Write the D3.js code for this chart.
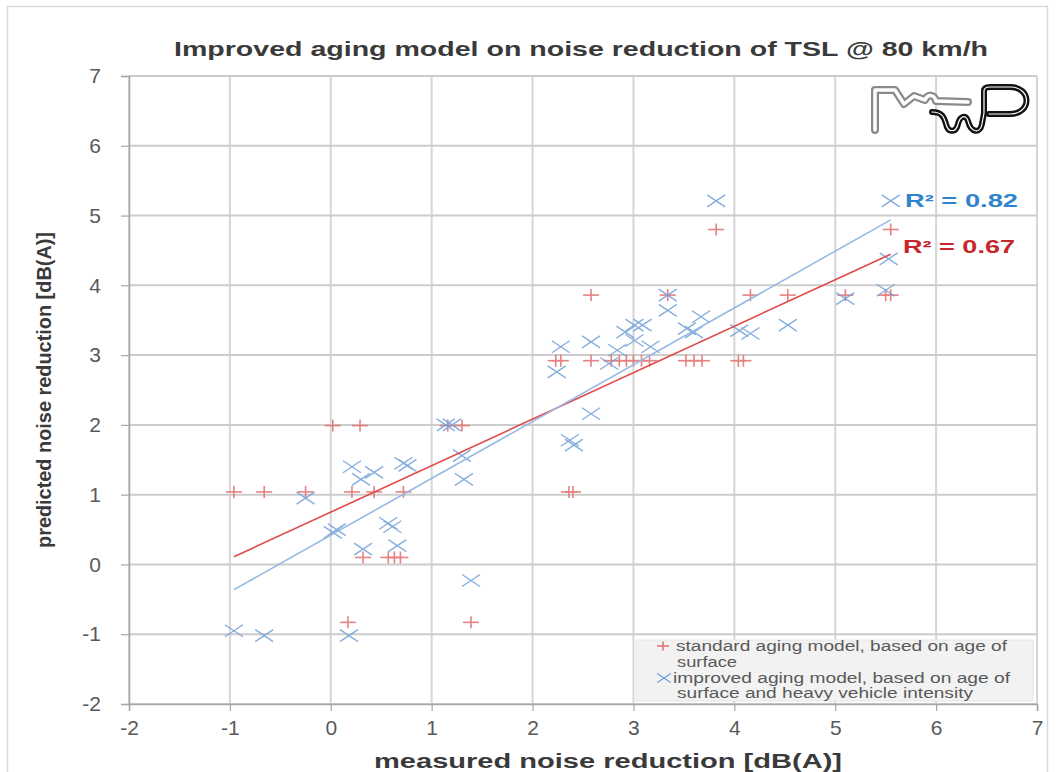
<!DOCTYPE html>
<html>
<head>
<meta charset="utf-8">
<script src="https://cdn.jsdelivr.net/npm/d3@7"></script>
<style>
  html, body { margin: 0; padding: 0; background: #fff; }
  svg { display: block; }
  text { font-family: "Liberation Sans Narrow", "Liberation Sans", "DejaVu Sans", sans-serif; }
</style>
</head>
<body>
<svg id="chart" width="1056" height="772"></svg>
<script>
// ---------------- DATA ----------------
const chartTitle = "Improved aging model on noise reduction of TSL @ 80 km/h";
const xAxisTitle = "measured noise reduction [dB(A)]";
const yAxisTitle = "predicted noise reduction [dB(A)]";
const xTicks = [-2, -1, 0, 1, 2, 3, 4, 5, 6, 7];
const yTicks = [-2, -1, 0, 1, 2, 3, 4, 5, 6, 7];
const seriesNames = ["standard aging model, based on age of surface",
                     "improved aging model, based on age of surface and heavy vehicle intensity"];

// standard aging model (red +)
const standardX = [-0.96, -0.66, -0.25, 0.02, 0.29, 0.17, 0.21, 0.43, 0.72, 0.32, 0.57, 0.63, 0.69,
  1.16, 1.30, 1.39, 2.36, 2.40, 2.23, 2.28, 2.58, 2.78, 2.86, 2.93, 3.00, 3.08, 3.16, 3.52, 3.60, 3.68,
  4.04, 4.09, 2.58, 3.34, 4.16, 4.53, 5.10, 5.50, 5.55, 3.82, 5.55];
const standardY = [1.04, 1.04, 1.04, 1.99, 1.99, -0.83, 1.04, 1.04, 1.04, 0.10, 0.10, 0.10, 0.10,
  1.99, 1.99, -0.83, 1.04, 1.04, 2.92, 2.92, 2.92, 2.92, 2.92, 2.92, 2.92, 2.92, 2.92, 2.92, 2.92, 2.92,
  2.92, 2.92, 3.86, 3.86, 3.86, 3.86, 3.86, 3.86, 3.86, 4.80, 4.80];

// improved aging model (blue x)
const improvedX = [-0.96, -0.66, 0.18, -0.25, 0.02, 0.06, 0.21, 0.30, 0.43, 0.72, 0.76, 0.57, 0.61, 0.32, 0.66,
  1.14, 1.20, 1.30, 1.32, 1.39, 2.28, 2.24, 2.58, 2.76, 2.84, 2.92, 3.01, 3.09, 3.01, 3.17,
  3.34, 3.34, 3.67, 3.53, 3.60, 4.05, 4.16, 4.53, 2.58, 2.37, 2.41, 3.82, 5.55, 5.53, 5.10, 5.50];
const improvedY = [-0.95, -1.02, -1.02, 0.95, 0.46, 0.50, 1.40, 1.22, 1.32, 1.45, 1.42, 0.59, 0.54, 0.22, 0.27,
  2.00, 2.00, 1.56, 1.22, -0.23, 3.12, 2.76, 3.19, 2.88, 3.07, 3.33, 3.43, 3.43, 3.21, 3.12,
  3.64, 3.86, 3.55, 3.38, 3.33, 3.35, 3.31, 3.43, 2.16, 1.78, 1.71, 5.21, 5.21, 4.38, 3.81, 3.93];

// linear trend lines and R² labels
const trendSlopes = [0.666, 0.814];
const trendIntercepts = [0.75, 0.42];
const rSquaredLabels = ["R² = 0.67", "R² = 0.82"];

// ---------------- DRAWING ----------------
const svg = d3.select("#chart");
const x = d3.scaleLinear().domain([-2, 7]).range([129, 1037]);
const y = d3.scaleLinear().domain([-2, 7]).range([704, 76]);

const red = "#e37575", blue = "#72a0d8";
const redLine = "#e04a4a", blueLine = "#97b9e4";

// outer frame
svg.append("rect").attr("x", 7.5).attr("y", 6.5).attr("width", 1040).attr("height", 780)
  .attr("fill", "none").attr("stroke", "#d9d9d9").attr("stroke-width", 1.5);

// grid
const grid = svg.append("g");
grid.selectAll(".vg").data(xTicks).enter().append("line")
  .attr("x1", d => x(d)).attr("x2", d => x(d)).attr("y1", y(7)).attr("y2", y(-2))
  .attr("stroke", "#d6d6d6").attr("stroke-width", 2);
grid.selectAll(".hg").data(yTicks).enter().append("line")
  .attr("y1", d => y(d)).attr("y2", d => y(d)).attr("x1", x(-2)).attr("x2", x(7))
  .attr("stroke", "#cccccc").attr("stroke-width", 2);

// axes
const fmt = d => String(d);
const xAxis = d3.axisBottom(x).tickValues(xTicks).tickSize(7).tickPadding(9).tickFormat(fmt);
const yAxis = d3.axisLeft(y).tickValues(yTicks).tickSize(8).tickPadding(20).tickFormat(fmt);
const gx = svg.append("g").attr("transform", `translate(0,${y(-2)})`).call(xAxis);
const gy = svg.append("g").attr("transform", `translate(${x(-2)},0)`).call(yAxis);
[gx, gy].forEach(g => {
  g.select(".domain").attr("stroke", "#a6a6a6").attr("stroke-width", 1.5);
  g.selectAll(".tick line").attr("stroke", "#a6a6a6").attr("stroke-width", 1.2);
  g.selectAll(".tick text").attr("fill", "#595959").attr("font-size", 21)
    .attr("font-family", "'Liberation Sans Narrow','Liberation Sans',sans-serif");
});

// legend box (drawn before points)
const leg = svg.append("g");
leg.append("rect").attr("x", 636).attr("y", 640).attr("width", 397).attr("height", 61)
  .attr("fill", "#f2f2f2").attr("stroke", "#e6e6e6");

// markers
function plus(g, cx, cy, color, s) {
  s = s || 1;
  g.append("line").attr("x1", cx - 8 * s).attr("x2", cx + 8 * s).attr("y1", cy).attr("y2", cy)
    .attr("stroke", color).attr("stroke-width", 1.6);
  g.append("line").attr("x1", cx).attr("x2", cx).attr("y1", cy - 6 * s).attr("y2", cy + 6 * s)
    .attr("stroke", color).attr("stroke-width", 1.6);
}
function cross(g, cx, cy, color, s) {
  s = s || 1;
  g.append("line").attr("x1", cx - 9 * s).attr("x2", cx + 9 * s).attr("y1", cy - 6 * s).attr("y2", cy + 6 * s)
    .attr("stroke", color).attr("stroke-width", 1.4);
  g.append("line").attr("x1", cx - 9 * s).attr("x2", cx + 9 * s).attr("y1", cy + 6 * s).attr("y2", cy - 6 * s)
    .attr("stroke", color).attr("stroke-width", 1.4);
}

const gStd = svg.append("g").attr("opacity", 0.9);
standardX.forEach((v, i) => plus(gStd, x(v), y(standardY[i]), red));
const gImp = svg.append("g").attr("opacity", 0.85);
improvedX.forEach((v, i) => cross(gImp, x(v), y(improvedY[i]), blue));

// trend lines
const seriesXs = [standardX, improvedX];
const lineColors = [redLine, blueLine];
seriesXs.forEach((xs, k) => {
  const [x0, x1] = d3.extent(xs);
  const pts = [x0, x1].map(v => [v, trendSlopes[k] * v + trendIntercepts[k]]);
  svg.append("path").datum(pts)
    .attr("d", d3.line().x(d => x(d[0])).y(d => y(d[1])))
    .attr("fill", "none").attr("stroke", lineColors[k]).attr("stroke-width", 1.6);
});

// R² labels
svg.append("text").attr("x", 905).attr("y", 207).text(rSquaredLabels[1])
  .attr("font-size", 18).attr("font-weight", "bold").attr("fill", "#2f84cc")
  .attr("font-family", "'Open Sans','DejaVu Sans',sans-serif")
  .attr("textLength", 113).attr("lengthAdjust", "spacingAndGlyphs");
svg.append("text").attr("x", 903).attr("y", 253).text(rSquaredLabels[0])
  .attr("font-size", 18).attr("font-weight", "bold").attr("fill", "#c8262a")
  .attr("font-family", "'Open Sans','DejaVu Sans',sans-serif")
  .attr("textLength", 112).attr("lengthAdjust", "spacingAndGlyphs");

// legend content
plus(leg, 663, 646, red, 0.75);
cross(leg, 664, 678, blue, 0.75);
const legLines = [
  ["standard aging model, based on age of", 676, 651, 331],
  ["surface", 677, 667, 60],
  ["improved aging model, based on age of", 673, 683, 337],
  ["surface and heavy vehicle intensity", 677, 698, 296]
];
legLines.forEach(l => {
  leg.append("text").attr("x", l[1]).attr("y", l[2]).text(l[0])
    .attr("font-size", 14).attr("fill", "#595959")
    .attr("textLength", l[3]).attr("lengthAdjust", "spacingAndGlyphs");
});

// titles
svg.append("text").attr("x", 174).attr("y", 56).text(chartTitle)
  .attr("font-size", 21).attr("font-weight", "bold").attr("fill", "#3a3a3a")
  .attr("textLength", 814).attr("lengthAdjust", "spacingAndGlyphs");
svg.append("text").attr("x", 374).attr("y", 768).text(xAxisTitle)
  .attr("font-size", 20).attr("font-weight", "bold").attr("fill", "#3a3a3a")
  .attr("textLength", 468).attr("lengthAdjust", "spacingAndGlyphs");
svg.append("text").attr("transform", "translate(51,548) rotate(-90)").text(yAxisTitle)
  .attr("font-size", 21).attr("font-weight", "bold").attr("fill", "#3a3a3a")
  .attr("textLength", 316).attr("lengthAdjust", "spacingAndGlyphs");

// logo (decorative)
const logo = svg.append("g").attr("fill", "none").attr("stroke-linecap", "round").attr("stroke-linejoin", "round");
const grayPath = "M875,130 L875,90 L895,90 L904,104 L914,96 L925,100 C928,94 934,94 936,101 L968,102";
logo.append("path").attr("d", grayPath).attr("stroke", "#8a8a8a").attr("stroke-width", 8);
logo.append("path").attr("d", grayPath).attr("stroke", "#ffffff").attr("stroke-width", 3.5);
const blackPath = "M932,112 C942,112 944,117 946,124 C948,133 956,133 958,124 C960,116 966,114 968,121 C971,133 980,134 982,124 L984,113 L984,91 C984,88 986,87 990,87 L1010,87 C1032,87 1032,114 1010,114 L989,114";
logo.append("path").attr("d", blackPath).attr("stroke", "#111111").attr("stroke-width", 6);
logo.append("path").attr("d", blackPath).attr("stroke", "#ffffff").attr("stroke-width", 1.2);
</script>
</body>
</html>
